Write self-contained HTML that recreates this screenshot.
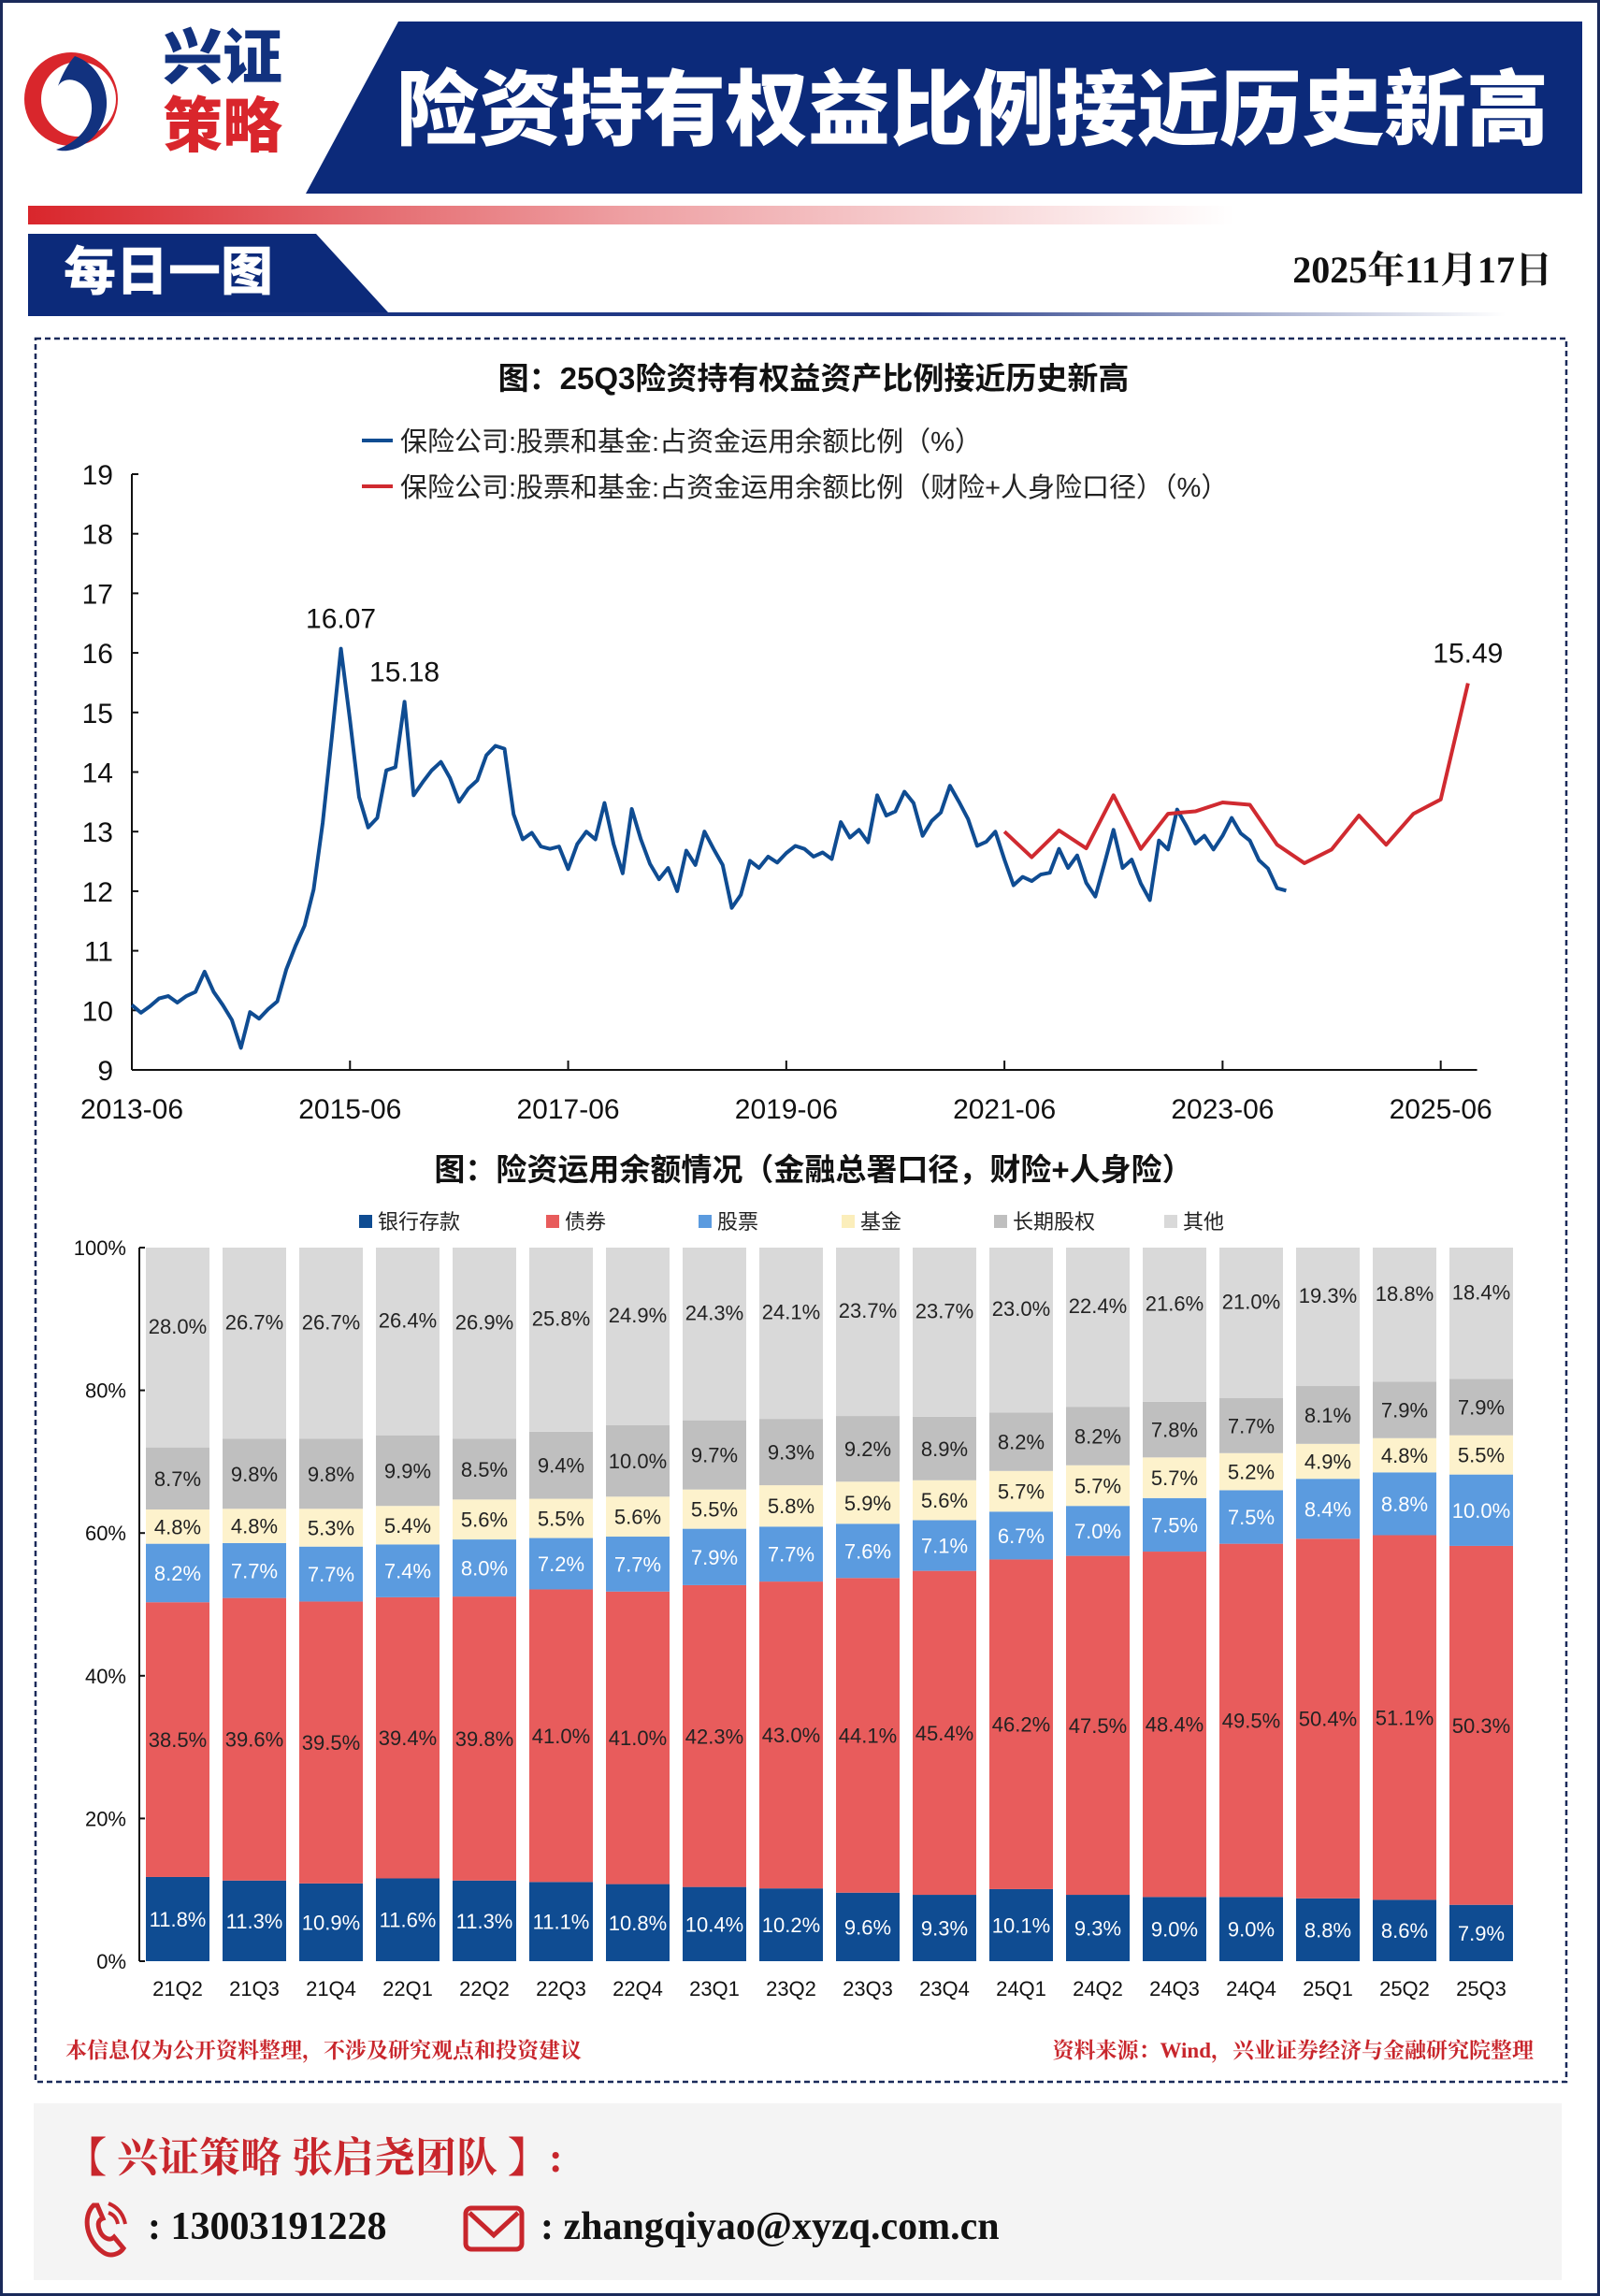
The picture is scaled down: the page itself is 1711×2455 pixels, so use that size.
<!DOCTYPE html>
<html><head><meta charset="utf-8"><style>
body{margin:0;background:#fff;}
svg{display:block;}
text{font-family:"Liberation Sans","Noto Sans CJK SC",sans-serif;}
.serif{font-family:"Liberation Serif","Noto Serif CJK SC",serif;}
</style></head><body>
<svg id="page" width="1711" height="2455" viewBox="0 0 1711 2455" xmlns="http://www.w3.org/2000/svg">
<defs>
<linearGradient id="redGrad" x1="0" x2="1" y1="0" y2="0"><stop offset="0" stop-color="#d9262c"/><stop offset="0.5" stop-color="#eea0a3"/><stop offset="1" stop-color="#ffffff"/></linearGradient>
<linearGradient id="blueGrad" x1="0" x2="1" y1="0" y2="0"><stop offset="0" stop-color="#0c2a7a"/><stop offset="0.6" stop-color="#2a3f8a"/><stop offset="1" stop-color="#ffffff"/></linearGradient>
</defs>
<rect x="1.5" y="1.5" width="1708" height="2452" fill="none" stroke="#1a2a5a" stroke-width="3"/>
<g>
<circle cx="76" cy="106" r="50" fill="#d9262c"/>
<circle cx="84" cy="106" r="40" fill="#fff"/>
<path d="M80 60 C110 70 125 110 105 140 C95 155 75 165 60 160 C90 150 105 125 95 100 C88 85 70 80 62 92 C70 70 80 60 80 60 Z" fill="#12327f"/>
<text x="174" y="84" font-size="64" font-weight="900" fill="#12327f" font-family="Noto Serif CJK SC,serif">兴证</text>
<text x="174" y="157" font-size="64" font-weight="900" fill="#d9262c" font-family="Noto Serif CJK SC,serif">策略</text>
</g>
<polygon points="426,23 1692,23 1692,207 327,207" fill="#0c2a7a"/>
<text x="1040" y="148" text-anchor="middle" font-size="88" font-weight="900" fill="#fff" font-family="Noto Sans CJK SC,sans-serif">险资持有权益比例接近历史新高</text>
<rect x="30" y="220" width="1290" height="20" fill="url(#redGrad)"/>
<polygon points="30,250 338,250 415,334 30,334" fill="#0c2a7a"/>
<rect x="30" y="334" width="1580" height="4" fill="url(#blueGrad)"/>
<text x="68" y="310" font-size="56" font-weight="900" fill="#fff" font-family="Noto Serif CJK SC,serif">每日一图</text>
<text x="1660" y="302" text-anchor="end" font-size="40" font-weight="bold" fill="#111" class="serif">2025年11月17日</text>
<rect x="38" y="362" width="1637" height="1864" fill="none" stroke="#1a2a5a" stroke-width="2.5" stroke-dasharray="6,4"/>
<text x="870" y="416" text-anchor="middle" font-size="33" font-weight="bold" fill="#111">图：25Q3险资持有权益资产比例接近历史新高</text>
<g>
<line x1="387" y1="471" x2="420" y2="471" stroke="#0f4c92" stroke-width="4"/>
<text x="428" y="482" font-size="29" fill="#222">保险公司:股票和基金:占资金运用余额比例（%）</text>
<line x1="387" y1="520" x2="420" y2="520" stroke="#d02a30" stroke-width="4"/>
<text x="428" y="531" font-size="29" fill="#222">保险公司:股票和基金:占资金运用余额比例（财险+人身险口径）（%）</text>
</g>
<g id="lineChart"></g>
<text x="870" y="1262" text-anchor="middle" font-size="33" font-weight="bold" fill="#111">图：险资运用余额情况（金融总署口径，财险+人身险）</text>
<g id="barLegend"></g>
<g id="barChart"></g>
<text x="70" y="2200" font-size="23" font-weight="bold" fill="#c8262c" class="serif">本信息仅为公开资料整理，不涉及研究观点和投资建议</text>
<text x="1640" y="2200" text-anchor="end" font-size="23" font-weight="bold" fill="#c8262c" class="serif">资料来源：Wind，兴业证券经济与金融研究院整理</text>
<rect x="36" y="2249" width="1634" height="189" fill="#f4f4f4"/>
<text x="70" y="2322" font-size="44" font-weight="bold" fill="#c8262c" class="serif">【 兴证策略 张启尧团队 】:</text>
<g>
<path d="M100 2358 C88 2370 92 2395 110 2408 C118 2414 128 2410 132 2404 L122 2392 C118 2396 112 2394 108 2388 C104 2380 104 2374 110 2372 L104 2358 Z" fill="none" stroke="#c8262c" stroke-width="5"/>
<path d="M116 2356 C126 2360 132 2368 134 2378 M116 2366 C122 2368 125 2372 126 2378" fill="none" stroke="#c8262c" stroke-width="4"/>
</g>
<text x="158" y="2394" font-size="42" font-weight="bold" fill="#111" class="serif">: 13003191228</text>
<g>
<rect x="498" y="2361" width="60" height="44" rx="6" fill="none" stroke="#c8262c" stroke-width="5"/>
<polyline points="502,2366 528,2390 554,2366" fill="none" stroke="#c8262c" stroke-width="5"/>
</g>
<text x="578" y="2394" font-size="42" font-weight="bold" fill="#111" class="serif">:  zhangqiyao@xyzq.com.cn</text>
</svg>
<script>
const NS="http://www.w3.org/2000/svg";
const blueValues=[10.09,9.96,10.07,10.2,10.24,10.13,10.24,10.31,10.65,10.31,10.09,9.84,9.37,9.97,9.86,10.02,10.15,10.69,11.08,11.42,12.03,13.15,14.58,16.07,14.87,13.58,13.07,13.23,14.03,14.08,15.18,13.61,13.83,14.03,14.17,13.9,13.5,13.72,13.86,14.28,14.44,14.39,13.29,12.87,12.98,12.75,12.71,12.75,12.37,12.79,13.0,12.87,13.48,12.79,12.3,13.38,12.87,12.46,12.2,12.39,12.0,12.68,12.44,13.0,12.71,12.44,11.72,11.94,12.51,12.39,12.58,12.48,12.64,12.76,12.71,12.58,12.65,12.54,13.16,12.9,13.03,12.82,13.61,13.27,13.34,13.67,13.48,12.93,13.18,13.32,13.77,13.5,13.21,12.76,12.83,13.0,12.53,12.1,12.24,12.17,12.28,12.31,12.71,12.39,12.6,12.14,11.91,12.46,13.03,12.39,12.53,12.13,11.85,12.85,12.7,13.37,13.1,12.8,12.93,12.7,12.93,13.23,12.97,12.85,12.52,12.38,12.05,12.01];
const redStartMonth=96;
const redValues=[13.0,12.57,13.02,12.72,13.61,12.71,13.3,13.34,13.49,13.45,12.78,12.47,12.7,13.27,12.78,13.3,13.54,15.49];
const yTicks=[9,10,11,12,13,14,15,16,17,18,19];
const xTickLabels=["2013-06","2015-06","2017-06","2019-06","2021-06","2023-06","2025-06"];
const annotations=[{m:23,v:16.07,t:"16.07"},{m:30,v:15.18,t:"15.18"},{m:147,v:15.49,t:"15.49"}];
const quarters=["21Q2","21Q3","21Q4","22Q1","22Q2","22Q3","22Q4","23Q1","23Q2","23Q3","23Q4","24Q1","24Q2","24Q3","24Q4","25Q1","25Q2","25Q3"];
const deposit=[11.8,11.3,10.9,11.6,11.3,11.1,10.8,10.4,10.2,9.6,9.3,10.1,9.3,9.0,9.0,8.8,8.6,7.9];
const bonds=[38.5,39.6,39.5,39.4,39.8,41.0,41.0,42.3,43.0,44.1,45.4,46.2,47.5,48.4,49.5,50.4,51.1,50.3];
const stocks=[8.2,7.7,7.7,7.4,8.0,7.2,7.7,7.9,7.7,7.6,7.1,6.7,7.0,7.5,7.5,8.4,8.8,10.0];
const funds=[4.8,4.8,5.3,5.4,5.6,5.5,5.6,5.5,5.8,5.9,5.6,5.7,5.7,5.7,5.2,4.9,4.8,5.5];
const equity=[8.7,9.8,9.8,9.9,8.5,9.4,10.0,9.7,9.3,9.2,8.9,8.2,8.2,7.8,7.7,8.1,7.9,7.9];
const others=[28.0,26.7,26.7,26.4,26.9,25.8,24.9,24.3,24.1,23.7,23.7,23.0,22.4,21.6,21.0,19.3,18.8,18.4];
const seriesNames=["银行存款","债券","股票","基金","长期股权","其他"];
const barTicks=[0,20,40,60,80,100];

function mk(tag,attrs,parent){const e=document.createElementNS(NS,tag);for(const k in attrs)e.setAttribute(k,attrs[k]);parent.appendChild(e);return e;}

const lc=document.getElementById('lineChart');
const X0=141,pxMonth=9.72,Y0=1144,pxUnit=63.7;
const xS=m=>X0+m*pxMonth;
const yS=v=>Y0-(v-9)*pxUnit;
let ax=mk('line',{x1:X0,y1:yS(19),x2:X0,y2:Y0,stroke:'#111','stroke-width':2},lc);


let axx=mk('line',{x1:X0,y1:Y0,x2:xS(148),y2:Y0,stroke:'#111','stroke-width':2},lc);


yTicks.forEach(v=>{
  mk('line',{x1:X0,y1:yS(v),x2:X0+7,y2:yS(v),stroke:'#111','stroke-width':2},lc);
  const t=mk('text',{x:X0-20,y:yS(v)+11,'text-anchor':'end','font-size':30,fill:'#111'},lc);
  t.textContent=v;
  
  
});
xTickLabels.forEach((lab,i)=>{
  const x=xS(i*24);
  mk('line',{x1:x,y1:Y0,x2:x,y2:Y0-10,stroke:'#111','stroke-width':2},lc);
  const t=mk('text',{x:x,y:Y0+52,'text-anchor':'middle','font-size':30,fill:'#111'},lc);
  t.textContent=lab;
  
  
});
const bp=mk('polyline',{points:blueValues.map((v,i)=>xS(i)+','+yS(v)).join(' '),fill:'none',stroke:'#0f4c92','stroke-width':4,'stroke-linejoin':'round'},lc);


const rp=mk('polyline',{points:redValues.map((v,i)=>xS(redStartMonth+i*3)+','+yS(v)).join(' '),fill:'none',stroke:'#d02a30','stroke-width':4,'stroke-linejoin':'round'},lc);


annotations.forEach(a=>{
  const t=mk('text',{x:xS(a.m),y:yS(a.v)-22,'text-anchor':'middle','font-size':30,fill:'#111'},lc);
  t.textContent=a.t;
  
  
});

const bc=document.getElementById('barChart');
const BX=149,B0=2097,B100=1334,step=82,bw=68,c0=190;
const yB=p=>B0-(p/100)*(B0-B100);
const colors=["#0f4c92","#e85c5c","#5b9bdf","#fdf2cc","#bfbfbf","#d9d9d9"];
const labelColors=["#fff","#222","#fff","#222","#222","#222"];
const series=[deposit,bonds,stocks,funds,equity,others];
let a1=mk('line',{x1:BX,y1:B100,x2:BX,y2:B0,stroke:'#111','stroke-width':2},bc);


barTicks.forEach(p=>{
  mk('line',{x1:BX,y1:yB(p),x2:BX+6,y2:yB(p),stroke:'#111','stroke-width':2},bc);
  const t=mk('text',{x:BX-14,y:yB(p)+8,'text-anchor':'end','font-size':22,fill:'#111'},bc);
  t.textContent=p+'%';
  
  
});
quarters.forEach((q,i)=>{
  const cx=c0+i*step;let cum=0;
  series.forEach((s,k)=>{
    const v=s[i];
    const top=(k===5)?100:cum+v;
    const r=mk('rect',{x:cx-bw/2,y:yB(top),width:bw,height:yB(cum)-yB(top),fill:colors[k]},bc);
    
    
    const mid=(k===5)?(cum+top)/2+3:(cum+top)/2;
    const t=mk('text',{x:cx,y:yB(mid)+8,'text-anchor':'middle','font-size':22,fill:labelColors[k]},bc);
    t.textContent=v.toFixed(1)+'%';
    
    
    cum=top;
  });
  const t=mk('text',{x:cx,y:2134,'text-anchor':'middle','font-size':22,fill:'#111'},bc);
  t.textContent=q;
  
  
});
const bl=document.getElementById('barLegend');
const legX=[384,584,747,900,1063,1245];
seriesNames.forEach((n,k)=>{
  mk('rect',{x:legX[k],y:1299,width:14,height:14,fill:colors[k]==="#fdf2cc"?"#fbeebb":colors[k]},bl);
  const t=mk('text',{x:legX[k]+20,y:1314,'font-size':22,fill:'#222'},bl);
  t.textContent=n;
  
  
});
</script>
</body></html>
